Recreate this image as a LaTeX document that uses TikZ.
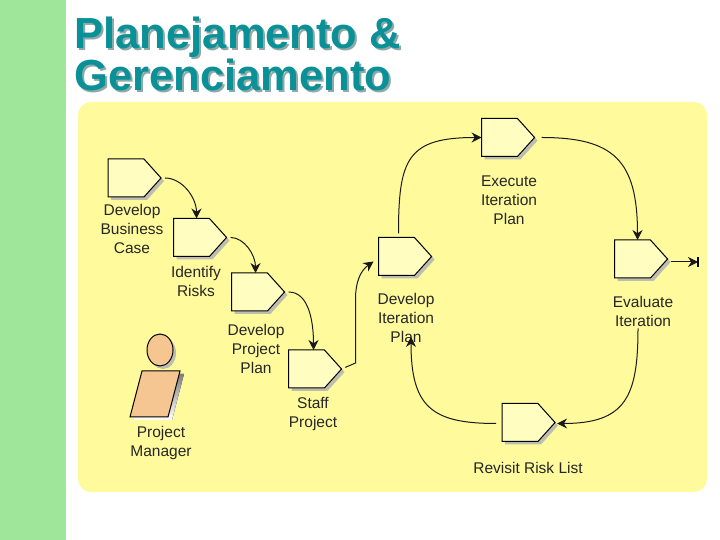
\documentclass[tikz,border=0pt]{standalone}
\usepackage{fontspec}
\setmainfont{Liberation Sans}
\usepackage{xcolor}
\usetikzlibrary{shapes.symbols,shapes.geometric,arrows.meta,shadows}
\definecolor{sidebar}{HTML}{A0E69A}
\definecolor{panel}{HTML}{FFFB9C}
\definecolor{titleteal}{HTML}{0A9097}
\definecolor{titleshade}{HTML}{8FA8A8}
\definecolor{boxfill}{HTML}{FFFDC0}
\definecolor{skin}{HTML}{F5C692}
\definecolor{shade}{HTML}{BDBDB0}

\begin{document}
\begin{tikzpicture}[x=1pt, y=1pt,
  activity/.style={signal, signal to=east, signal pointer angle=96, draw=black, line width=1pt, fill=boxfill, minimum width=53pt, minimum height=38pt, inner sep=0pt, outer sep=0pt,
    drop shadow={shadow xshift=3pt, shadow yshift=-3pt, fill=shade, opacity=1}},
  caption/.style={font=\fontsize{15.5}{19}\selectfont, align=center, inner sep=0pt, text=black!85},
  flow/.style={draw=black!90, line width=1pt, -{Stealth[length=10pt,width=10pt]}},
  heading/.style={font=\fontsize{43.5}{37}\bfseries\selectfont, align=left, anchor=north west, inner sep=0pt}
]
  \useasboundingbox (0,0) rectangle (720,540);
  \fill[white] (0,0) rectangle (720,540);
  \fill[sidebar] (0,0) rectangle (66,540);
  \fill[panel, rounded corners=13pt] (78,48) rectangle (707,438);
  % title
  \node[heading, text=titleshade] (titleback) at (76.5,521) {Planejamento \&\\Gerenciamento};
  \node[heading, text=titleteal] (title) at (74.5,523) {Planejamento \&\\Gerenciamento};
  % left chain
  \node[activity] (dbc) at (126,362) {};
  \node[activity] (risks) at (191.5,302.5) {};
  \node[activity] (dpp) at (249.5,248) {};
  \node[activity] (staff) at (306.5,171) {};
  \node[caption] (dbclabel) at (132,311) {Develop\\Business\\Case};
  \node[caption] (riskslabel) at (196,259) {Identify\\Risks};
  \node[caption] (dpplabel) at (256,191) {Develop\\Project\\Plan};
  \node[caption] (stafflabel) at (313,126) {Staff\\Project};
  % iteration loop
  \node[activity] (dip) at (396.5,283.5) {};
  \node[activity] (exec) at (499.5,402.5) {};
  \node[activity] (eval) at (632.5,281) {};
  \node[activity] (revisit) at (520,117.5) {};
  \node[caption] (diplabel) at (406,222) {Develop\\Iteration\\Plan};
  \node[caption] (execlabel) at (509,340) {Execute\\Iteration\\Plan};
  \node[caption] (evallabel) at (643,229) {Evaluate\\Iteration};
  \node[caption] (revisitlabel) at (528,72) {Revisit Risk List};
  \coordinate (exit) at (698,278);
  % project manager
  \fill[shade] (146,166) -- (184,166) -- (172,120) -- (134,120) -- cycle;
  \draw[fill=skin, line width=1pt] (142,169) -- (180,169) -- (168,123) -- (130,123) -- cycle;
  \node[ellipse, draw, line width=1pt, fill=skin, minimum width=26pt, minimum height=32pt, inner sep=0pt,
    drop shadow={shadow xshift=3pt, shadow yshift=-3pt, fill=shade, opacity=1}] (head) at (160,190) {};
  \node[caption] (pmlabel) at (161,97) {Project\\Manager};
  % connectors
  \draw[flow, shorten <=4pt] (dbc.east) to[out=0, in=90] ([xshift=5pt]risks.north);
  \draw[flow, shorten <=4pt] (risks.east) to[out=0, in=90] ([xshift=6pt]dpp.north);
  \draw[flow, shorten <=4pt] (dpp.east) to[out=0, in=90] ([xshift=7pt]staff.north);
  \draw[flow, shorten <=4pt] (staff.east) -- ++(14,6) -- ++(0,65) to[out=90, in=215] ([xshift=-5pt,yshift=-5pt]dip.west);
  \draw[flow] ([xshift=2pt,yshift=4pt]dip.north) to[out=90, in=180, looseness=1.5] (exec.west);
  \draw[flow, shorten <=7pt] (exec.east) to[out=0, in=90, looseness=1.4] ([xshift=5pt]eval.north);
  \draw[flow, shorten <=3pt] (eval.east |- exit) -- (exit);
  \draw[line width=1.5pt] ([yshift=5pt]exit) -- ([yshift=-5pt]exit);
  \draw[flow] ([xshift=-5pt,yshift=-2pt]evallabel.south) to[out=270, in=0, looseness=1.4] ([xshift=2pt,yshift=-1pt]revisit.east);
  \draw[flow, shorten >=-6pt] ([xshift=-6pt,yshift=-1pt]revisit.west) to[out=180, in=270, looseness=1.4] ([xshift=5pt]diplabel.south);
\end{tikzpicture}
\end{document}
